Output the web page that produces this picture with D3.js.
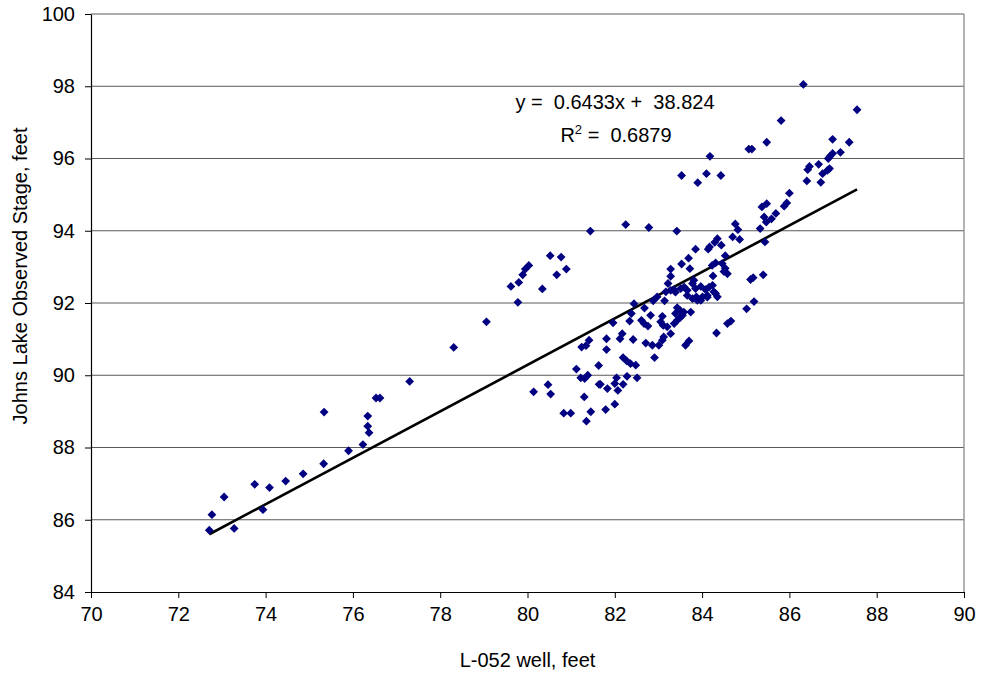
<!DOCTYPE html>
<html>
<head>
<meta charset="utf-8">
<script src="https://cdn.jsdelivr.net/npm/d3@7"></script>
<style>
  body { margin: 0; background: #fff; }
  text { font-family: "Liberation Sans", Arial, sans-serif; }
</style>
</head>
<body>
<div id="chart"></div>
<script>
// well level (x) vs lake stage (y)
const wellLevel = [
  72.71, 72.77, 73.05, 73.28, 73.75, 73.94, 74.09, 74.46, 74.86, 75.33, 75.34, 75.90, 76.23, 76.34, 76.34, 76.37, 76.53, 76.62, 77.30, 78.31, 79.06,
  79.78, 79.62, 79.80, 79.89, 79.95, 80.03, 80.52, 80.77, 80.89, 80.67, 80.34,
  80.14, 80.47, 80.53, 80.83, 80.99, 81.35, 81.45, 81.30, 81.12, 81.22, 81.31, 81.38, 81.63, 81.64, 81.24, 81.34, 81.41, 81.67, 81.83, 82.00, 81.79,
  82.04, 82.00, 82.07, 82.19, 82.28, 82.51, 82.19, 82.27, 82.36, 82.48, 82.91, 81.81, 81.81, 82.17, 82.12, 82.42, 82.71, 82.86, 83.01, 83.09, 83.12,
  83.62, 83.70, 81.96, 82.34, 82.38, 82.44, 82.68, 82.88, 82.97, 82.61, 82.67, 82.76, 82.82, 83.09, 83.05, 83.11, 83.20, 83.28, 83.36, 83.43, 83.49,
  83.55, 83.43, 83.49, 83.58, 83.74, 83.39, 83.14, 84.33, 84.66, 84.58, 85.02, 85.19, 85.11, 85.17, 85.40,
  83.28, 83.39, 83.51, 83.66, 83.78, 83.89, 84.01, 84.12, 84.16, 84.24, 84.31, 83.22, 83.17, 83.36, 83.59, 83.66, 83.78, 83.85, 83.97, 84.08, 84.27,
  84.35, 83.87, 83.97, 84.12, 83.81, 83.28, 83.28, 83.53, 83.69, 83.72, 83.85, 84.14, 84.17, 84.29, 84.35, 84.44, 84.23, 84.31, 84.46, 84.53, 84.53,
  84.58, 84.50, 84.25, 84.70, 84.76, 84.82, 84.86, 85.33, 85.44, 85.37, 85.48, 85.42, 85.47, 85.59, 85.69, 85.88, 85.94, 86.00, 86.40, 86.42, 86.46,
  86.67, 86.72, 86.76, 86.87, 86.92, 86.89, 86.93, 86.99, 87.17, 86.99, 87.37, 85.48, 85.14, 85.81, 86.32, 87.55, 85.07, 84.18, 83.53, 83.90, 84.10,
  84.43, 82.25, 82.78, 83.42, 81.44
];
const lakeStage = [
  85.71, 86.14, 86.63, 85.76, 86.98, 86.28, 86.89, 87.07, 87.27, 87.55, 88.98, 87.91, 88.08, 88.87, 88.59, 88.41, 89.37, 89.37, 89.83, 90.77, 91.48,
  92.02, 92.46, 92.57, 92.78, 92.94, 93.04, 93.31, 93.27, 92.94, 92.78, 92.39,
  89.54, 89.74, 89.48, 88.95, 88.95, 88.73, 88.99, 89.40, 90.17, 89.93, 89.91, 90.00, 90.27, 89.75, 90.78, 90.82, 90.97, 89.75, 89.63, 89.20, 89.05,
  89.93, 89.77, 89.58, 89.75, 89.97, 89.93, 90.49, 90.40, 90.32, 90.28, 90.49, 91.01, 90.71, 91.15, 91.01, 90.99, 90.89, 90.83, 90.83, 90.97, 91.06,
  90.83, 90.95, 91.45, 91.50, 91.71, 91.98, 91.86, 92.06, 92.17, 91.52, 91.43, 91.36, 91.66, 91.63, 91.48, 91.38, 91.34, 91.15, 91.43, 91.52, 91.59,
  91.66, 91.87, 91.80, 91.75, 91.75, 91.71, 92.06, 91.17, 91.50, 91.43, 91.84, 92.04, 92.65, 92.70, 92.78,
  92.35, 92.30, 92.40, 92.21, 92.12, 92.07, 92.17, 92.21, 92.44, 92.49, 92.26, 92.54, 92.31, 92.37, 92.44, 92.35, 92.54, 92.40, 92.46, 92.37, 92.31,
  92.17, 92.17, 92.07, 92.16, 92.63, 92.74, 92.94, 93.08, 93.24, 92.95, 93.49, 93.49, 93.55, 93.68, 93.78, 93.60, 93.04, 93.11, 93.09, 93.31, 92.96,
  92.81, 92.87, 92.75, 93.83, 94.19, 94.03, 93.76, 94.06, 93.69, 94.66, 94.75, 94.38, 94.24, 94.33, 94.48, 94.68, 94.77, 95.04, 95.38, 95.69, 95.78,
  95.84, 95.34, 95.58, 95.67, 95.72, 96.00, 96.06, 96.14, 96.17, 96.53, 96.45, 96.45, 96.26, 97.05, 98.05, 97.35, 96.26, 96.06, 95.53, 95.33, 95.58,
  95.53, 94.17, 94.09, 93.99, 93.99
];

const xTicks = [70, 72, 74, 76, 78, 80, 82, 84, 86, 88, 90];
const yTicks = [84, 86, 88, 90, 92, 94, 96, 98, 100];

// linear trendline as printed on the chart
const slope = 0.6433, intercept = 38.824, rSquared = "0.6879";

const xTitle = "L-052 well, feet";
const yTitle = "Johns Lake Observed Stage, feet";

const margin = {top: 14, right: 17, bottom: 82, left: 91},
    width = 981 - margin.left - margin.right,
    height = 674 - margin.top - margin.bottom;

const svg = d3.select("#chart")
  .append("svg")
    .attr("width", 981)
    .attr("height", 674);

const g = svg.append("g")
    .attr("transform", `translate(${margin.left},${margin.top})`);

const x = d3.scaleLinear().domain([70, 90]).range([0, width]);
const y = d3.scaleLinear().domain([84, 100]).range([height, 0]);

// horizontal gridlines
g.append("g")
  .selectAll("line")
  .data(yTicks.filter(d => d > 84))
  .join("line")
    .attr("x1", 0)
    .attr("x2", width)
    .attr("y1", d => y(d))
    .attr("y2", d => y(d))
    .attr("stroke", "#5a5a5a")
    .attr("stroke-width", 1);

// right border of the plot area
g.append("line")
    .attr("x1", width).attr("x2", width)
    .attr("y1", 0).attr("y2", height)
    .attr("stroke", "#8a8a8a")
    .attr("stroke-width", 1.3);

// axes
const xAxis = g.append("g")
    .attr("transform", `translate(0,${height})`)
    .call(d3.axisBottom(x).tickValues(xTicks).tickSize(6).tickPadding(9).tickSizeOuter(0));

const yAxis = g.append("g")
    .call(d3.axisLeft(y).tickValues(yTicks).tickSize(6).tickPadding(10).tickSizeOuter(0));

[xAxis, yAxis].forEach(a => {
  a.select(".domain").attr("stroke", "#000").attr("stroke-width", 1.2);
  a.selectAll(".tick line").attr("stroke", "#000");
  a.selectAll(".tick text")
    .attr("fill", "#000")
    .style("font-size", "20px")
    .style("font-family", "'Liberation Sans', Arial, sans-serif");
});

// trendline over the range of the data
const xMin = d3.min(wellLevel), xMax = d3.max(wellLevel);
g.append("line")
    .attr("x1", x(xMin))
    .attr("y1", y(slope * xMin + intercept))
    .attr("x2", x(xMax))
    .attr("y2", y(slope * xMax + intercept))
    .attr("stroke", "#000")
    .attr("stroke-width", 2.6);

// diamond markers
const points = wellLevel.map((v, i) => ({x: v, y: lakeStage[i]}));
const r = 4.4;
g.append("g")
  .selectAll("path")
  .data(points)
  .join("path")
    .attr("d", `M0,${-r}L${r},0L0,${r}L${-r},0Z`)
    .attr("transform", d => `translate(${x(d.x)},${y(d.y)})`)
    .attr("fill", "#000080");

// equation and R squared
const eq = svg.append("g").style("font-size", "20px").attr("fill", "#000");
eq.append("text")
    .attr("x", 615)
    .attr("y", 109)
    .attr("text-anchor", "middle")
    .style("white-space", "pre")
    .text(`y =  ${slope}x +  ${intercept}`);
const r2 = eq.append("text")
    .attr("x", 616)
    .attr("y", 142)
    .attr("text-anchor", "middle")
    .style("white-space", "pre");
r2.append("tspan").text("R");
r2.append("tspan").attr("dy", -8).style("font-size", "13px").text("2");
r2.append("tspan").attr("dy", 8).text(` =  ${rSquared}`);

// axis titles
svg.append("text")
    .attr("x", margin.left + width / 2)
    .attr("y", 667)
    .attr("text-anchor", "middle")
    .style("font-size", "20px")
    .text(xTitle);

svg.append("text")
    .attr("transform", "translate(27,276) rotate(-90)")
    .attr("text-anchor", "middle")
    .style("font-size", "20px")
    .text(yTitle);
</script>
</body>
</html>
